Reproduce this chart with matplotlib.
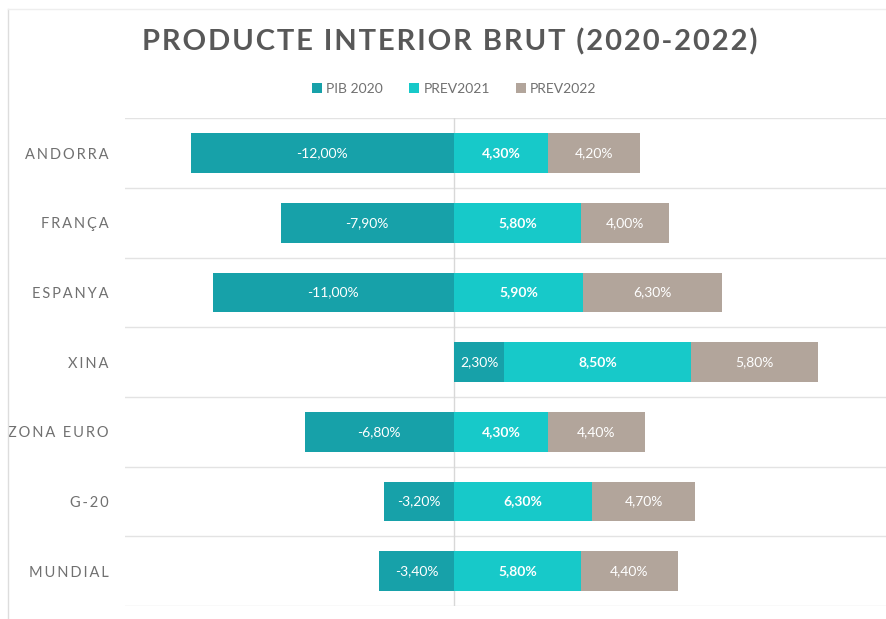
import numpy as np
import matplotlib.pyplot as plt

# Dades (PIB i previsions, %)
paisos = ["ANDORRA", "FRANÇA", "ESPANYA", "XINA", "ZONA EURO", "G-20", "MUNDIAL"]
pib_2020 = [-12.0, -7.9, -11.0, 2.3, -6.8, -3.2, -3.4]
prev_2021 = [4.3, 5.8, 5.9, 8.5, 4.3, 6.3, 5.8]
prev_2022 = [4.2, 4.0, 6.3, 5.8, 4.4, 4.7, 4.4]
series = ["PIB 2020", "PREV2021", "PREV2022"]

c_pib = "#17a1a9"
c_21 = "#17c9c9"
c_22 = "#b2a59b"
grey_txt = "#707070"

plt.rcParams['font.family'] = ['Lato', 'DejaVu Sans']


def espaiat(s, sep="\u2009"):
    # simula l'espaiat entre lletres
    return sep.join(s)


def pct(v):
    return f"{v:.2f}%".replace(".", ",")


fig = plt.figure(figsize=(8.86, 6.19), dpi=100)
ax = fig.add_axes([0.141, 0.021, 0.859, 0.788])

y = np.arange(len(paisos))
h = 0.57

pib = np.array(pib_2020)
p21 = np.array(prev_2021)
p22 = np.array(prev_2022)
left21 = np.where(pib > 0, pib, 0)
left22 = left21 + p21

ax.barh(y, pib, height=h, color=c_pib, label=series[0], zorder=3)
ax.barh(y, p21, left=left21, height=h, color=c_21, label=series[1], zorder=3)
ax.barh(y, p22, left=left22, height=h, color=c_22, label=series[2], zorder=3)

for i in range(len(paisos)):
    ax.text(pib[i] / 2, y[i], pct(pib[i]), ha="center", va="center",
            color="white", fontsize=10, zorder=4)
    ax.text(left21[i] + p21[i] / 2, y[i], pct(p21[i]), ha="center", va="center",
            color="white", fontsize=10, fontweight="bold", zorder=4)
    ax.text(left22[i] + p22[i] / 2, y[i], pct(p22[i]), ha="center", va="center",
            color="white", fontsize=10, zorder=4)

ax.set_xlim(-15.0, 19.7)
ax.set_ylim(len(paisos) - 0.5, -0.5)

for b in np.arange(-0.5, len(paisos), 1.0):
    ax.axhline(b, color="#e3e3e3", lw=1, zorder=1)
ax.axvline(0, color="#d8d8d8", lw=1, zorder=2)

ax.set_xticks([])
ax.set_yticks(y)
ax.set_yticklabels([espaiat(p) for p in paisos], color=grey_txt, fontsize=10.5)
ax.tick_params(axis="y", length=0, pad=12)
for s in ax.spines.values():
    s.set_visible(False)

fig.text(0.508, 0.932, espaiat("PRODUCTE INTERIOR BRUT (2020-2022)", "\u200a"),
         ha="center", va="center", fontsize=21, fontweight="bold", color="#585858")

fig.legend(loc="center", bbox_to_anchor=(0.513, 0.857), ncol=3, frameon=False,
           fontsize=10, handlelength=0.7, handleheight=0.7, handletextpad=0.3,
           columnspacing=1.9, labelcolor=grey_txt)

# vora esquerra del marc
fig.add_artist(plt.Line2D([0.009, 0.009], [0.0, 0.985], color="#dddddd", lw=1))
fig.add_artist(plt.Line2D([0.009, 1.0], [0.985, 0.985], color="#eeeeee", lw=1))

fig.savefig("out.png", dpi=100)
